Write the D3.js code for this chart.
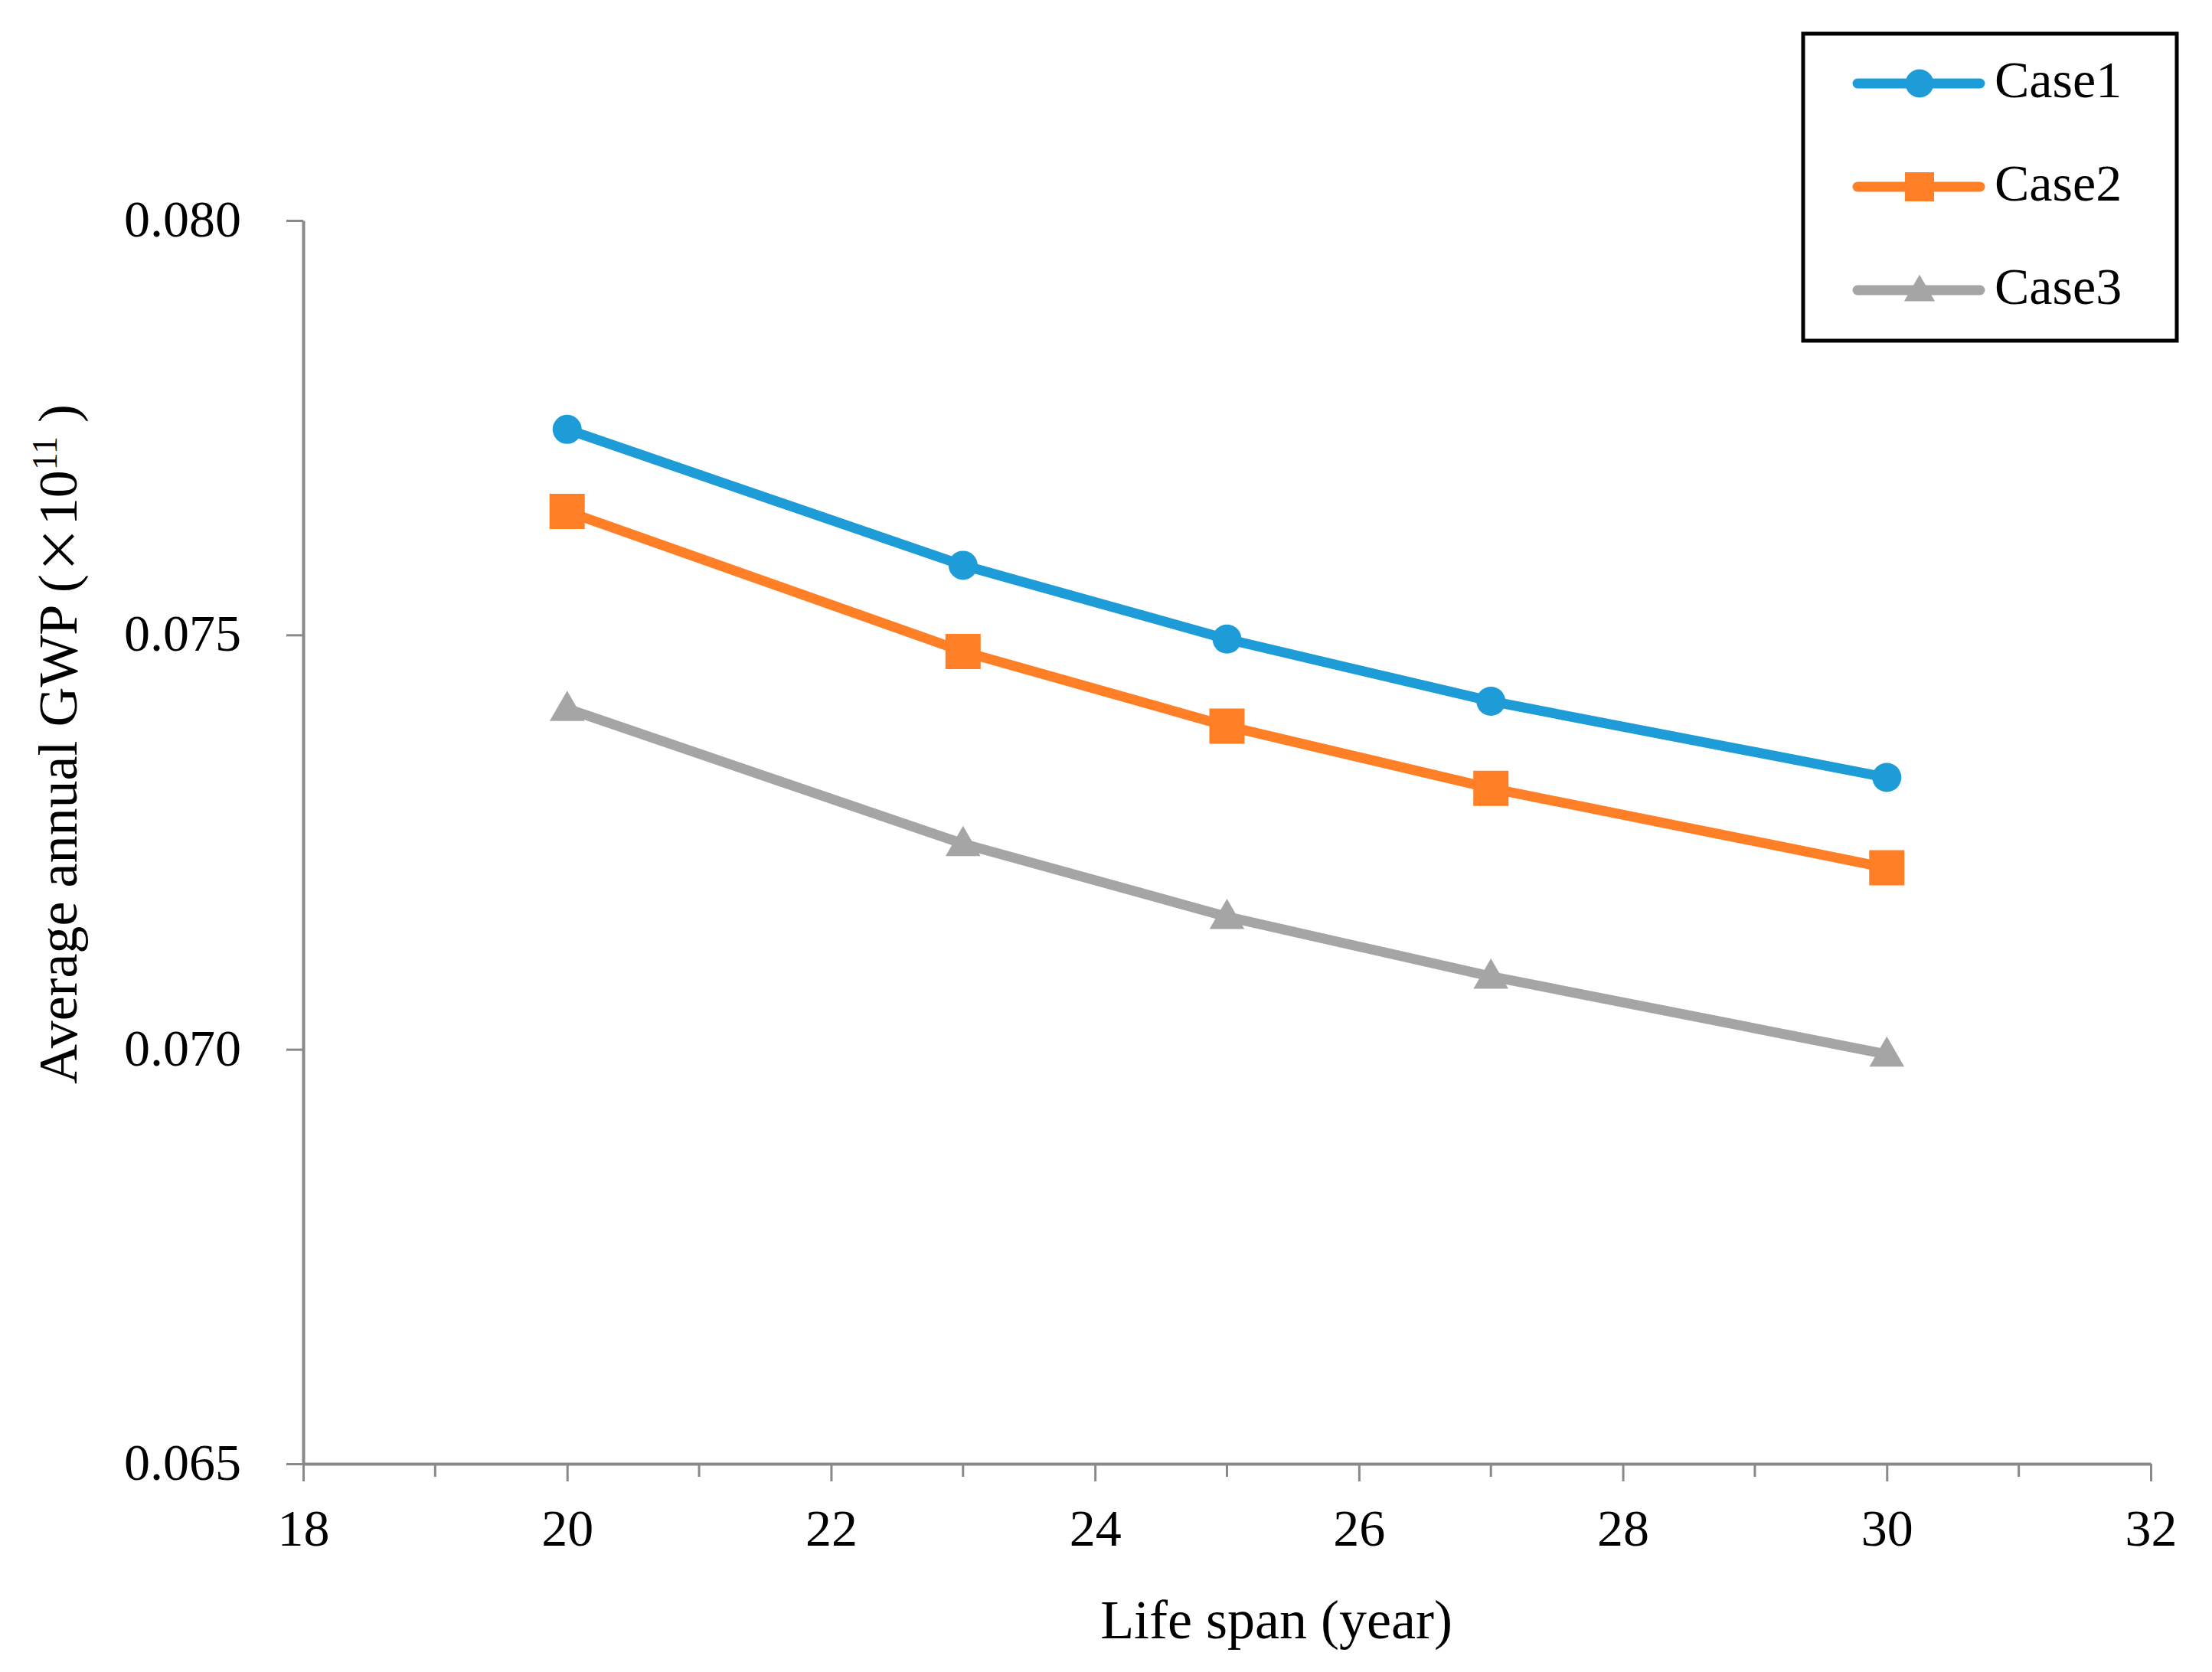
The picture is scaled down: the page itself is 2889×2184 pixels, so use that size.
<!DOCTYPE html>
<html>
<head>
<meta charset="utf-8">
<script src="https://cdn.jsdelivr.net/npm/d3@7"></script>
<style>
  body { margin: 0; background: #fff; }
  svg { display: block; font-family: "Liberation Serif", "Times New Roman", serif; }
</style>
</head>
<body>
<svg id="chart" width="2889" height="2184"></svg>
<script>
const years = [20, 23, 25, 27, 30];
const case1 = [0.07748, 0.07584, 0.07495, 0.07420, 0.07328];
const case2 = [0.07649, 0.07480, 0.07390, 0.07315, 0.07219];
const case3 = [0.07411, 0.07248, 0.07160, 0.07088, 0.06994];
const seriesNames = ['Case1', 'Case2', 'Case3'];
const xTicks = [18, 20, 22, 24, 26, 28, 30, 32];
const xMinorTicks = [19, 21, 23, 25, 27, 29, 31];
const yTicks = [0.065, 0.070, 0.075, 0.080];

const series = [
  { name: seriesNames[0], values: case1, color: '#1e9cd7', symbol: d3.symbolCircle, size: 1134, legendSize: 1075 },
  { name: seriesNames[1], values: case2, color: '#fe7f26', symbol: d3.symbolSquare, size: 2116, legendSize: 1444 },
  { name: seriesNames[2], values: case3, color: '#a5a5a5', symbol: d3.symbolTriangle, size: 900, legendSize: 700 },
];

const svg = d3.select('#chart');
const axisColor = '#898989';

const x = d3.scaleLinear().domain([18, 32]).range([396, 2809]);
const y = d3.scaleLinear().domain([0.065, 0.080]).range([1912, 288]);

// minor x ticks
svg.append('g')
  .selectAll('line')
  .data(xMinorTicks)
  .join('line')
  .attr('x1', (d) => x(d)).attr('x2', (d) => x(d))
  .attr('y1', y(0.065)).attr('y2', y(0.065) + 17)
  .attr('stroke', axisColor).attr('stroke-width', 3);

const xAxis = svg.append('g')
  .attr('transform', `translate(0,${y(0.065)})`)
  .call(d3.axisBottom(x).tickValues(xTicks).tickSize(23).tickSizeOuter(0).tickPadding(36).tickFormat(d3.format('d')));

const yAxis = svg.append('g')
  .attr('transform', `translate(${x(18)},0)`)
  .call(d3.axisLeft(y).tickValues(yTicks).tickSize(22).tickSizeOuter(0).tickPadding(59).tickFormat(d3.format('.3f')));

[xAxis, yAxis].forEach((ax) => {
  ax.select('.domain').attr('stroke', axisColor).attr('stroke-width', 4);
  ax.selectAll('.tick line').attr('stroke', axisColor).attr('stroke-width', 3);
  ax.selectAll('.tick text')
    .attr('fill', '#000')
    .attr('font-size', 68)
    .attr('font-family', '"Liberation Serif", "Times New Roman", serif');
});
yAxis.selectAll('.tick text').attr('dy', '0.3em');

// lines
const line = d3.line()
  .x((d) => x(d[0]))
  .y((d) => y(d[1]));

series.forEach((s) => {
  const pts = years.map((yr, i) => [yr, s.values[i]]);
  svg.append('path')
    .datum(pts)
    .attr('d', line)
    .attr('fill', 'none')
    .attr('stroke', s.color)
    .attr('stroke-width', 13)
    .attr('stroke-linejoin', 'round');
  svg.append('g')
    .selectAll('path')
    .data(pts)
    .join('path')
    .attr('transform', (d) => `translate(${x(d[0])},${y(d[1]) + (s.symbol === d3.symbolTriangle ? 3 : 0)})`)
    .attr('d', d3.symbol().type(s.symbol).size(s.size))
    .attr('fill', s.color);
});

// axis titles
svg.append('text')
  .attr('x', 1667).attr('y', 2140)
  .attr('text-anchor', 'middle')
  .attr('font-size', 72)
  .text('Life span (year)');

const yTitle = svg.append('text')
  .attr('transform', 'translate(100,972) rotate(-90)')
  .attr('text-anchor', 'middle')
  .attr('font-size', 72);
yTitle.append('tspan').text('Average annual GWP (');
yTitle.append('tspan').attr('font-family', '"Noto Sans CJK SC", sans-serif').attr('font-size', 64).text('×');
yTitle.append('tspan').text('10');
yTitle.append('tspan').attr('font-size', 46).attr('dy', -26).text('11');
yTitle.append('tspan').attr('dy', 26).text(' )');

// legend
const legend = svg.append('g');
legend.append('rect')
  .attr('x', 2355).attr('y', 44).attr('width', 488).attr('height', 401)
  .attr('fill', '#fff').attr('stroke', '#000').attr('stroke-width', 5);

const rowY = [109, 244, 379];
series.forEach((s, i) => {
  const g = legend.append('g').attr('transform', `translate(0,${rowY[i]})`);
  g.append('line')
    .attr('x1', 2426).attr('x2', 2586).attr('y1', 0).attr('y2', 0)
    .attr('stroke', s.color).attr('stroke-width', 13).attr('stroke-linecap', 'round');
  g.append('path')
    .attr('transform', `translate(2507,${s.symbol === d3.symbolTriangle ? 3 : 0})`)
    .attr('d', d3.symbol().type(s.symbol).size(s.legendSize))
    .attr('fill', s.color);
  g.append('text')
    .attr('x', 2605).attr('y', 18)
    .attr('font-size', 68)
    .text(s.name);
});
</script>
</body>
</html>
